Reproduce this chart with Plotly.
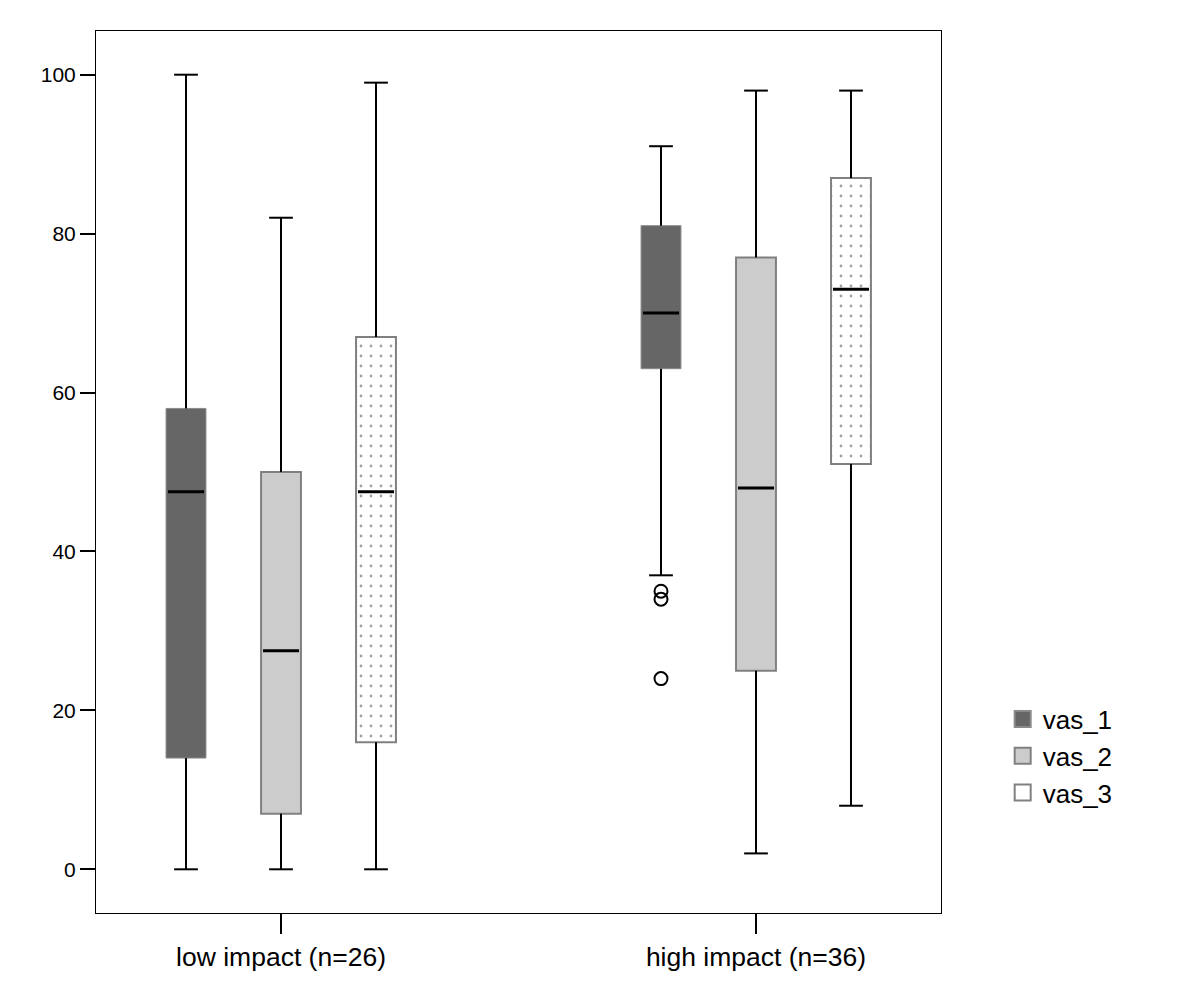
import plotly.graph_objects as go

groups = ["low impact (n=26)", "high impact (n=36)"]
series = ["vas_1", "vas_2", "vas_3"]

# per series: values for [low impact, high impact]
mins = {"vas_1": [0, 37], "vas_2": [0, 2], "vas_3": [0, 8]}
q1s = {"vas_1": [14, 63], "vas_2": [7, 25], "vas_3": [16, 51]}
medians = {"vas_1": [47.5, 70], "vas_2": [27.5, 48], "vas_3": [47.5, 73]}
q3s = {"vas_1": [58, 81], "vas_2": [50, 77], "vas_3": [67, 87]}
maxs = {"vas_1": [100, 91], "vas_2": [82, 98], "vas_3": [99, 98]}
outliers = {"vas_1": [[], [35, 34, 24]], "vas_2": [[], []], "vas_3": [[], []]}

y_ticks = [0, 20, 40, 60, 80, 100]

fills = {"vas_1": "#666666", "vas_2": "#cccccc", "vas_3": "#ffffff"}
edges = {"vas_1": "#8a8a8a", "vas_2": "#808080", "vas_3": "#808080"}
edge_w = {"vas_1": 1, "vas_2": 2, "vas_3": 2}

group_pos = [1, 2]
offsets = {"vas_1": -0.2, "vas_2": 0.0, "vas_3": 0.2}
box_w = 0.084
cap_w = 0.05

fig = go.Figure()

for s in series:
    xs = [g + offsets[s] for g in group_pos]
    lo = q1s[s]
    hi = q3s[s]
    pattern = dict(shape=".", size=10, solidity=0.06, fgcolor="#444444", bgcolor="#ffffff") if s == "vas_3" else dict(shape="")
    fig.add_trace(go.Bar(
        x=xs, y=[h - l for h, l in zip(hi, lo)], base=lo, width=box_w,
        marker=dict(color=fills[s], line=dict(color=edges[s], width=edge_w[s]), pattern=pattern),
        showlegend=False, hoverinfo="skip"))

    # whiskers
    wx, wy = [], []
    for x, mn, a, b, mx in zip(xs, mins[s], lo, hi, maxs[s]):
        wx += [x, x, None, x - cap_w / 2, x + cap_w / 2, None,
               x, x, None, x - cap_w / 2, x + cap_w / 2, None]
        wy += [mn, a, None, mn, mn, None, b, mx, None, mx, mx, None]
    fig.add_trace(go.Scatter(x=wx, y=wy, mode="lines", line=dict(color="black", width=2),
                             showlegend=False, hoverinfo="skip"))

    # medians
    mx_, my_ = [], []
    for x, m in zip(xs, medians[s]):
        mx_ += [x - box_w / 2 + 0.004, x + box_w / 2 - 0.004, None]
        my_ += [m, m, None]
    fig.add_trace(go.Scatter(x=mx_, y=my_, mode="lines", line=dict(color="black", width=3),
                             showlegend=False, hoverinfo="skip"))

    # outliers
    ox, oy = [], []
    for x, pts in zip(xs, outliers[s]):
        ox += [x] * len(pts)
        oy += pts
    if ox:
        fig.add_trace(go.Scatter(x=ox, y=oy, mode="markers",
                                 marker=dict(symbol="circle-open", size=13, color="black",
                                             line=dict(width=2, color="black")),
                                 showlegend=False, hoverinfo="skip"))

# legend entries
for s in series:
    fig.add_trace(go.Scatter(x=[None], y=[None], mode="markers", name=s,
                             marker=dict(symbol="square", size=16, color=fills[s],
                                         line=dict(color=edges[s], width=2))))

fig.update_layout(
    width=1200, height=1007,
    margin=dict(l=88, r=267, t=23, b=102),
    paper_bgcolor="white", plot_bgcolor="white",
    barmode="overlay",
    font=dict(family="Liberation Sans, Arial, sans-serif", color="black"),
    legend=dict(x=1.073, y=0.178, xanchor="left", yanchor="middle",
                font=dict(size=26), itemsizing="trace", tracegroupgap=0),
    showlegend=True,
)
fig.update_xaxes(range=[0.6105, 2.3895], tickvals=group_pos, ticktext=groups,
                 ticks="outside", ticklen=20, tickwidth=2, tickcolor="black",
                 tickfont=dict(size=26.5), showline=True, linecolor="black", linewidth=1,
                 mirror=True, showgrid=False, zeroline=False)
fig.update_yaxes(range=[-5.5, 105.5], tickvals=y_ticks,
                 ticks="outside", ticklen=15, tickwidth=2, tickcolor="black",
                 tickfont=dict(size=21), showline=True, linecolor="black", linewidth=1,
                 mirror=True, showgrid=False, zeroline=False)

fig.write_html("out.html")
